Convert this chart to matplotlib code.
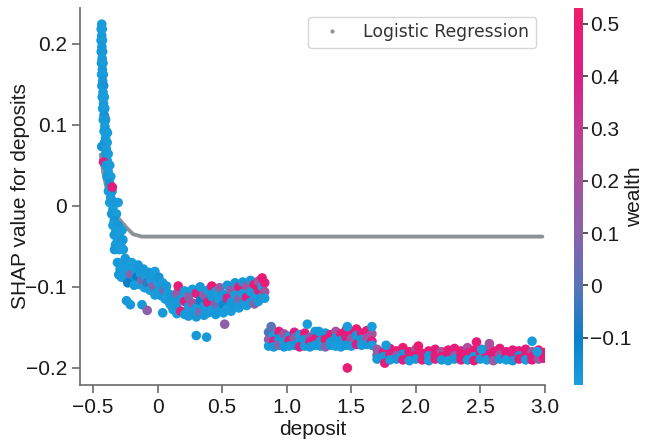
import numpy as np
import matplotlib
matplotlib.use("Agg")
import matplotlib.pyplot as plt
from matplotlib.colors import LinearSegmentedColormap
from matplotlib.lines import Line2D

plt.rcParams['font.family'] = ['Liberation Sans', 'DejaVu Sans']

# (deposit, SHAP value, wealth) for each group of observations
steep = [
    (-0.428, 0.178, 0.30), (-0.424, 0.150, 0.25), (-0.410, 0.110, 0.35),
    (-0.432, 0.224, -0.18), (-0.436, 0.218, -0.17), (-0.428, 0.218, -0.18), (-0.432, 0.210, -0.18),
    (-0.437, 0.204, -0.16), (-0.426, 0.204, -0.18), (-0.431, 0.196, -0.17), (-0.436, 0.190, -0.18),
    (-0.425, 0.190, -0.17), (-0.429, 0.182, -0.18), (-0.434, 0.176, -0.16), (-0.422, 0.176, -0.18),
    (-0.427, 0.168, -0.17), (-0.433, 0.162, -0.18), (-0.420, 0.162, -0.18), (-0.425, 0.154, -0.17),
    (-0.431, 0.148, -0.18), (-0.417, 0.148, -0.16), (-0.422, 0.140, -0.18), (-0.428, 0.134, -0.17),
    (-0.412, 0.134, -0.18), (-0.418, 0.126, -0.18), (-0.425, 0.120, -0.17), (-0.408, 0.120, -0.18),
    (-0.414, 0.112, -0.16), (-0.420, 0.106, -0.18), (-0.402, 0.106, -0.17), (-0.408, 0.098, -0.18),
    (-0.414, 0.092, -0.18), (-0.396, 0.092, -0.17), (-0.388, 0.090, -0.18), (-0.402, 0.084, -0.18),
    (-0.410, 0.078, -0.17), (-0.390, 0.078, -0.18), (-0.432, 0.073, -0.16), (-0.396, 0.070, -0.18),
    (-0.402, 0.064, -0.17), (-0.382, 0.064, -0.18), (-0.390, 0.056, -0.18), (-0.418, 0.054, 0.42),
    (-0.398, 0.050, -0.17), (-0.370, 0.050, -0.18), (-0.382, 0.042, -0.18), (-0.390, 0.036, -0.17),
    (-0.362, 0.036, -0.18), (-0.372, 0.028, -0.16), (-0.380, 0.018, -0.18), (-0.352, 0.018, -0.17),
    (-0.362, 0.010, -0.18), (-0.370, 0.004, -0.18), (-0.330, 0.004, -0.17), (-0.305, 0.004, -0.18),
    (-0.345, -0.004, -0.18), (-0.355, -0.010, -0.17), (-0.318, -0.010, -0.18), (-0.335, -0.018, -0.16),
    (-0.345, -0.024, -0.18), (-0.305, -0.024, -0.17), (-0.322, -0.030, -0.18), (-0.275, -0.030, -0.18),
    (-0.335, -0.036, -0.17), (-0.295, -0.036, -0.18), (-0.310, -0.042, -0.18), (-0.268, -0.042, -0.17),
    (-0.325, -0.048, -0.18), (-0.285, -0.048, -0.18), (-0.333, -0.054, -0.17), (-0.300, -0.054, -0.18),
    (-0.265, -0.054, -0.18), (-0.350, 0.023, 0.46),
]

shelf = [
    (-0.31, -0.070, -0.17), (-0.29, -0.078, -0.18), (-0.30, -0.085, -0.16), (-0.27, -0.072, -0.18),
    (-0.25, -0.065, -0.17), (-0.26, -0.082, -0.18), (-0.24, -0.090, -0.17), (-0.22, -0.076, -0.18),
    (-0.21, -0.085, 0.10), (-0.20, -0.070, -0.18), (-0.19, -0.093, -0.17), (-0.17, -0.080, -0.18),
    (-0.16, -0.088, -0.10), (-0.15, -0.073, -0.17), (-0.14, -0.097, -0.18), (-0.13, -0.084, -0.18),
    (-0.12, -0.092, 0.08), (-0.11, -0.078, -0.17), (-0.10, -0.101, -0.18), (-0.09, -0.088, -0.18),
    (-0.08, -0.095, -0.05), (-0.07, -0.082, -0.17), (-0.06, -0.104, -0.18), (-0.05, -0.092, -0.18),
    (-0.04, -0.086, -0.17), (-0.03, -0.099, 0.12), (-0.02, -0.081, -0.18), (-0.01, -0.107, -0.17),
    (0.00, -0.094, -0.18), (0.01, -0.088, -0.16), (0.02, -0.102, -0.18), (0.03, -0.111, -0.17),
    (0.04, -0.095, -0.18), (0.05, -0.104, 0.05), (0.06, -0.115, -0.18), (0.07, -0.099, -0.17),
    (0.08, -0.108, -0.18), (0.09, -0.119, -0.17), (-0.28, -0.088, -0.18), (-0.23, -0.095, -0.10),
    (-0.18, -0.098, -0.18), (-0.02, -0.110, -0.18),
    (-0.24, -0.117, -0.17), (-0.21, -0.122, -0.17), (-0.12, -0.122, -0.17), (-0.08, -0.129, 0.12),
    (0.04, -0.132, -0.17), (0.30, -0.160, -0.17), (0.38, -0.162, -0.17), (0.52, -0.146, 0.12),
]

trough = [
    (0.10, -0.110, -0.17), (0.10, -0.122, -0.18), (0.12, -0.118, -0.17), (0.12, -0.128, -0.18),
    (0.15, -0.108, 0.15), (0.15, -0.125, -0.17), (0.15, -0.133, -0.18), (0.16, -0.099, 0.48),
    (0.18, -0.115, -0.17), (0.18, -0.130, 0.42), (0.21, -0.105, -0.18), (0.21, -0.118, 0.45),
    (0.21, -0.134, -0.17), (0.24, -0.112, 0.10), (0.24, -0.124, -0.18), (0.24, -0.136, -0.17),
    (0.27, -0.103, -0.18), (0.27, -0.120, 0.20), (0.27, -0.133, -0.17), (0.30, -0.108, 0.42),
    (0.30, -0.126, -0.18), (0.30, -0.137, -0.17), (0.33, -0.100, -0.17), (0.33, -0.117, -0.10),
    (0.33, -0.131, 0.10), (0.36, -0.110, 0.10), (0.36, -0.124, -0.18), (0.36, -0.135, -0.17),
    (0.39, -0.104, -0.18), (0.39, -0.119, 0.45), (0.39, -0.132, -0.17), (0.42, -0.099, 0.50),
    (0.42, -0.112, -0.17), (0.42, -0.128, -0.18), (0.45, -0.106, -0.18), (0.45, -0.121, 0.05),
    (0.45, -0.134, -0.17), (0.48, -0.101, 0.15), (0.48, -0.115, -0.18), (0.48, -0.129, -0.17),
    (0.51, -0.109, -0.17), (0.51, -0.122, -0.12), (0.51, -0.132, -0.18), (0.54, -0.098, -0.17),
    (0.54, -0.114, 0.40), (0.54, -0.127, -0.18), (0.57, -0.104, 0.12), (0.57, -0.119, -0.17),
    (0.57, -0.130, -0.18), (0.60, -0.095, -0.17), (0.60, -0.110, -0.18), (0.60, -0.124, -0.17),
    (0.63, -0.100, 0.45), (0.63, -0.115, 0.10), (0.63, -0.126, -0.18), (0.66, -0.094, -0.17),
    (0.66, -0.108, -0.18), (0.66, -0.121, -0.17), (0.69, -0.099, 0.20), (0.69, -0.113, 0.44),
    (0.69, -0.123, -0.18), (0.72, -0.092, -0.17), (0.72, -0.106, -0.18), (0.72, -0.119, -0.17),
    (0.75, -0.097, 0.50), (0.75, -0.110, -0.18), (0.75, -0.121, 0.10), (0.78, -0.093, 0.15),
    (0.78, -0.104, 0.45), (0.78, -0.118, -0.17), (0.81, -0.089, 0.50), (0.81, -0.100, -0.18),
    (0.81, -0.112, -0.17), (0.83, -0.095, 0.46), (0.83, -0.106, 0.20), (0.83, -0.114, -0.18),
]

step = [
    (0.86, -0.156, -0.02), (0.86, -0.165, 0.15), (0.86, -0.173, -0.17), (0.88, -0.149, 0.00),
    (0.90, -0.160, -0.18), (0.90, -0.167, 0.40), (0.90, -0.174, -0.17), (0.94, -0.155, 0.45),
    (0.94, -0.164, -0.17), (0.94, -0.172, 0.10), (0.98, -0.158, 0.20), (0.98, -0.168, -0.18),
    (0.98, -0.174, -0.17), (1.02, -0.161, -0.17), (1.02, -0.166, 0.45), (1.02, -0.173, -0.18),
    (1.06, -0.156, 0.42), (1.06, -0.163, 0.12), (1.06, -0.172, -0.17), (1.10, -0.159, -0.18),
    (1.10, -0.168, -0.17), (1.10, -0.174, 0.40), (1.14, -0.157, 0.48), (1.14, -0.165, -0.17),
    (1.14, -0.173, -0.18), (1.18, -0.162, 0.15), (1.18, -0.168, 0.44), (1.18, -0.174, -0.17),
    (1.22, -0.155, -0.17), (1.22, -0.164, 0.46), (1.22, -0.172, -0.18), (1.26, -0.160, 0.42),
    (1.26, -0.167, -0.17), (1.26, -0.173, -0.18), (1.30, -0.157, -0.17), (1.30, -0.165, 0.50),
    (1.30, -0.174, 0.10), (1.34, -0.159, 0.45), (1.34, -0.168, -0.18), (1.34, -0.172, -0.17),
    (1.38, -0.155, 0.20), (1.38, -0.163, -0.17), (1.38, -0.173, -0.18), (1.42, -0.158, 0.47),
    (1.42, -0.166, -0.17), (1.42, -0.174, -0.18), (1.46, -0.153, 0.50), (1.46, -0.162, 0.42),
    (1.46, -0.172, -0.17), (1.50, -0.155, 0.45), (1.50, -0.164, 0.15), (1.50, -0.173, -0.18),
    (1.54, -0.152, 0.50), (1.54, -0.160, -0.17), (1.54, -0.171, 0.40), (1.58, -0.157, 0.46),
    (1.58, -0.165, -0.17), (1.58, -0.172, -0.18), (1.62, -0.154, 0.48), (1.62, -0.163, 0.20),
    (1.62, -0.171, -0.17), (1.66, -0.158, 0.20), (1.66, -0.167, 0.45), (1.66, -0.172, -0.18),
    (1.16, -0.146, -0.18), (1.47, -0.149, -0.18), (1.66, -0.149, -0.18), (1.47, -0.200, 0.48),
    (1.25, -0.155, -0.17),
]

floor = [
    (1.70, -0.177, 0.15), (1.70, -0.184, 0.10), (1.70, -0.189, -0.17), (1.75, -0.180, 0.46),
    (1.75, -0.186, -0.17), (1.76, -0.194, 0.45), (1.80, -0.176, 0.48), (1.80, -0.184, 0.44),
    (1.80, -0.190, -0.18), (1.85, -0.179, 0.46), (1.85, -0.185, 0.15), (1.85, -0.189, -0.17),
    (1.90, -0.175, 0.50), (1.90, -0.183, -0.17), (1.90, -0.190, 0.44), (1.95, -0.180, 0.47),
    (1.95, -0.186, 0.45), (1.95, -0.191, -0.18), (2.00, -0.177, 0.18), (2.00, -0.184, 0.48),
    (2.00, -0.189, -0.17), (2.02, -0.173, 0.50), (2.05, -0.182, 0.45), (2.05, -0.190, 0.46),
    (2.10, -0.179, 0.48), (2.10, -0.185, -0.17), (2.10, -0.191, -0.18), (2.15, -0.177, 0.44),
    (2.15, -0.184, 0.47), (2.15, -0.189, 0.45), (2.20, -0.180, 0.20), (2.20, -0.186, 0.46),
    (2.20, -0.190, -0.17), (2.25, -0.178, 0.48), (2.25, -0.183, 0.45), (2.25, -0.191, -0.18),
    (2.30, -0.176, 0.47), (2.30, -0.185, 0.15), (2.30, -0.189, -0.17), (2.35, -0.179, 0.44),
    (2.35, -0.184, 0.48), (2.35, -0.190, 0.45), (2.40, -0.175, 0.22), (2.40, -0.182, 0.46),
    (2.40, -0.190, -0.17), (2.45, -0.178, 0.48), (2.45, -0.186, -0.18), (2.45, -0.191, 0.45),
    (2.50, -0.180, 0.47), (2.50, -0.185, 0.44), (2.50, -0.189, -0.17), (2.55, -0.177, 0.18),
    (2.55, -0.184, 0.46), (2.55, -0.190, -0.18), (2.60, -0.179, 0.48), (2.60, -0.185, 0.45),
    (2.60, -0.191, 0.15), (2.65, -0.176, 0.47), (2.65, -0.184, 0.20), (2.65, -0.189, -0.17),
    (2.70, -0.180, 0.45), (2.70, -0.186, 0.48), (2.70, -0.190, -0.18), (2.75, -0.178, 0.46),
    (2.75, -0.183, 0.44), (2.75, -0.191, -0.17), (2.80, -0.179, 0.48), (2.80, -0.185, -0.17),
    (2.80, -0.189, 0.45), (2.85, -0.177, 0.47), (2.85, -0.184, 0.46), (2.85, -0.190, -0.18),
    (2.90, -0.180, 0.18), (2.90, -0.186, 0.48), (2.90, -0.190, 0.45), (2.95, -0.178, 0.46),
    (2.95, -0.183, 0.44), (2.95, -0.189, 0.15), (2.99, -0.181, 0.47), (2.99, -0.188, 0.45),
    (1.77, -0.172, -0.18), (2.51, -0.177, -0.18), (2.47, -0.168, 0.47), (2.57, -0.170, 0.20),
    (2.90, -0.167, -0.18), (2.94, -0.180, -0.18),
]

# Logistic regression dependence curve
lr_deposit = [-0.44, -0.42, -0.38, -0.31, -0.24, -0.19, -0.12, 0.5, 1.0, 1.5, 2.0, 2.5, 2.98]
lr_shap = [0.063, 0.041, 0.011, -0.014, -0.027, -0.035, -0.038, -0.038, -0.038,
           -0.038, -0.038, -0.038, -0.038]

pts = np.array(steep + shelf + trough + step + floor)
deposit, shap_val, wealth = pts[:, 0], pts[:, 1], pts[:, 2]

vmin, vmax = -0.19, 0.53
anchors = [-0.19, -0.1, 0.0, 0.1, 0.2, 0.3, 0.4, 0.5, 0.53]
anchor_cols = ['#1b9fdd', '#0a80c8', '#5a74b9', '#8962ab', '#a8519e', '#c23b92',
               '#dc1f86', '#eb1a72', '#ef1f68']
cmap = LinearSegmentedColormap.from_list(
    'wealth', [((a - vmin) / (vmax - vmin), c) for a, c in zip(anchors, anchor_cols)])

fig = plt.figure(figsize=(6.48, 4.41), dpi=100)
ax = fig.add_axes([0.1235, 0.127, 0.7175, 0.855])
cax = fig.add_axes([0.886, 0.127, 0.014, 0.855])

gray = '#8d9297'
ax.plot(lr_deposit, lr_shap, color=gray, lw=2.8, zorder=1, solid_capstyle='round')
sc = ax.scatter(deposit, shap_val, c=wealth, cmap=cmap, vmin=vmin, vmax=vmax,
                s=48, linewidths=0, zorder=2)

ax.set_xlim(-0.60, 3.0)
ax.set_ylim(-0.221, 0.244)
ax.set_xticks([-0.5, 0, 0.5, 1.0, 1.5, 2.0, 2.5, 3.0])
ax.set_xticklabels(['\u22120.5', '0', '0.5', '1.0', '1.5', '2.0', '2.5', '3.0'])
ax.set_yticks([-0.2, -0.1, 0, 0.1, 0.2])
ax.set_yticklabels(['\u22120.2', '\u22120.1', '0', '0.1', '0.2'])
for side in ['top', 'right']:
    ax.spines[side].set_visible(False)
for side in ['left', 'bottom']:
    ax.spines[side].set_color('#6a6a6a')
    ax.spines[side].set_linewidth(1.2)
ax.tick_params(axis='both', labelsize=15, length=6, width=1.2, color='#6a6a6a',
               labelcolor='#1a1a1a')
ax.set_xlabel('deposit', fontsize=15, color='#1a1a1a', labelpad=2)
ax.set_ylabel('SHAP value for deposits', fontsize=15, color='#1a1a1a', labelpad=-3)

handle = Line2D([], [], ls='', marker='.', ms=4, color=gray)
leg = ax.legend([handle], ['Logistic Regression'], loc='upper right',
                prop={'family': 'DejaVu Sans', 'size': 12.4}, labelcolor='#333333',
                frameon=True, fancybox=True, borderaxespad=0.5)
leg.get_frame().set_edgecolor('#cccccc')

cb = fig.colorbar(sc, cax=cax)
cb.outline.set_visible(False)
cb.set_ticks([-0.1, 0, 0.1, 0.2, 0.3, 0.4, 0.5])
cb.set_ticklabels(['\u22120.1', '0', '0.1', '0.2', '0.3', '0.4', '0.5'])
cb.ax.tick_params(labelsize=15, length=3.5, width=1.2, pad=1.5, color='#333333',
                  labelcolor='#1a1a1a')
cb.set_label('wealth', fontsize=15, color='#1a1a1a', labelpad=-5)

fig.savefig('out.png', dpi=100)
